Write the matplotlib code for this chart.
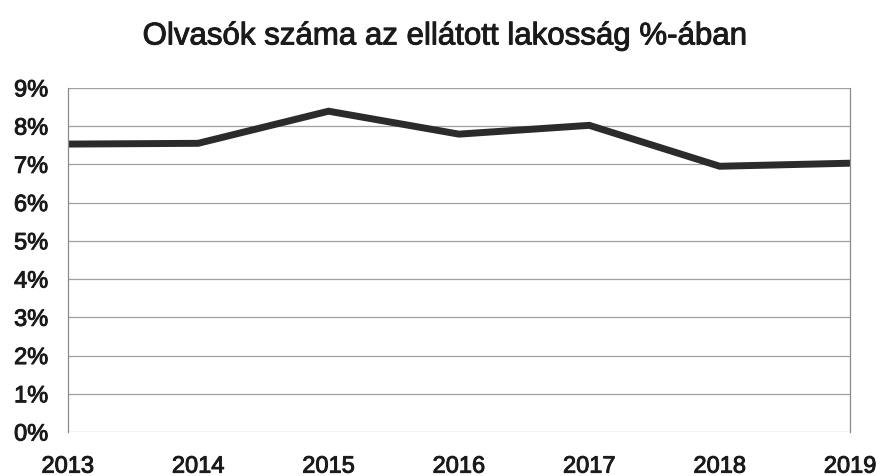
import matplotlib.pyplot as plt
import matplotlib.patheffects as pe
from matplotlib.ticker import FuncFormatter

years = [2013, 2014, 2015, 2016, 2017, 2018, 2019]
readers_pct = [7.53, 7.55, 8.39, 7.79, 8.02, 6.95, 7.03]
title = "Olvasók száma az ellátott lakosság %-ában"

plt.rcParams['font.family'] = ['Liberation Sans', 'DejaVu Sans']

fig = plt.figure(figsize=(8.8, 4.76), dpi=100)
ax = fig.add_axes([0.077, 0.0924, 0.889, 0.723])

ax.plot(years, readers_pct, color='#2b2b2b', linewidth=5, solid_joinstyle='miter')

ax.set_xlim(2013, 2019)
ax.set_ylim(0, 9)
ax.set_yticks(range(0, 10))
ax.yaxis.set_major_formatter(FuncFormatter(lambda v, p: f"{int(v)}%"))
ax.set_xticks(years)
ax.grid(axis='y', color='#a0a0a0', linewidth=0.9)
ax.set_axisbelow(True)

for side in ['top', 'bottom']:
    ax.spines[side].set_visible(False)
for side in ['left', 'right']:
    ax.spines[side].set_color('#8a8a8a')
    ax.spines[side].set_linewidth(0.9)

# scanned text looks heavier than plain Arial
thick = [pe.withStroke(linewidth=0.7, foreground='#1a1a1a')]

ax.tick_params(axis='y', length=0, pad=14, labelsize=17, labelcolor='#1a1a1a')
ax.tick_params(axis='x', length=0, pad=17, labelsize=17, labelcolor='#1a1a1a')
for lbl in ax.get_xticklabels() + ax.get_yticklabels():
    lbl.set_path_effects(thick)

fig.suptitle(title, x=0.506, y=0.955, fontsize=22.5, color='#1a1a1a', path_effects=thick)

fig.savefig('out.png', dpi=100)
